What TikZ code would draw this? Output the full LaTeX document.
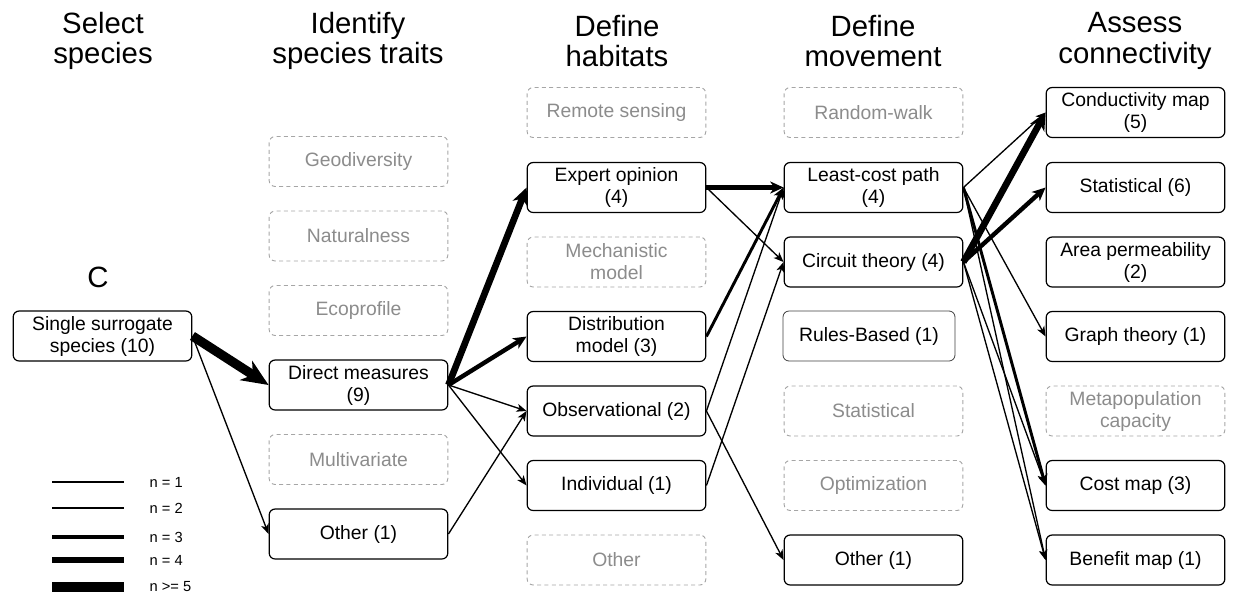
\documentclass[tikz,border=0pt]{standalone}
\usepackage{fontspec}
\setmainfont{Liberation Sans}
\usetikzlibrary{arrows.meta}

\begin{document}
\begin{tikzpicture}[x=0.75pt, y=-0.75pt,
    box/.style={draw, rounded corners=4.5pt, line width=0.9pt, fill=white, minimum width=134pt, minimum height=37.5pt, inner sep=1pt, align=center, font=\fontsize{14.5}{16.5}\selectfont},
    ghost/.style={box, draw=black!35, line width=0.7pt, dash pattern=on 3pt off 2.5pt, text=black!45},
    head/.style={align=center, font=\fontsize{22}{23}\selectfont},
    n1/.style={line width=1pt, -{Stealth[length=7.5pt, width=6pt, inset=2pt]}},
    n2/.style={line width=2.2pt, -{Stealth[length=8.5pt, width=7.5pt, inset=2.5pt]}},
    n3/.style={line width=3.3pt, -{Stealth[length=10pt, width=9pt, inset=3pt]}},
    n4/.style={line width=5pt, -{Stealth[length=13pt, width=12pt, inset=4pt]}},
    n5/.style={line width=7pt, -{Stealth[length=20pt, width=17pt, inset=6pt]}}]
  \useasboundingbox (0,0) rectangle (1233,594);

  % column titles
  \node[head] (h1) at (103,41) {Select\\species};
  \node[head] (h2) at (358,41) {Identify\\species traits};
  \node[head] (h3) at (617,41) {Define\\habitats};
  \node[head] (h4) at (873,41) {Define\\movement};
  \node[head] (h5) at (1135,41) {Assess\\connectivity};
  \node[head] (lab) at (98,277) {C};

  % select species
  \node[box] (single) at (102.5,336) {Single surrogate\\species (10)};

  % species traits
  \node[ghost] (geo) at (358.5,161.5) {Geodiversity};
  \node[ghost] (natur) at (358.5,236) {Naturalness};
  \node[ghost] (eco) at (358.5,310.5) {Ecoprofile};
  \node[box] (direct) at (358.5,385) {Direct measures\\(9)};
  \node[ghost] (multi) at (358.5,459.5) {Multivariate};
  \node[box] (othtrait) at (358.5,534) {Other (1)};

  % habitats
  \node[ghost] (remote) at (616.5,112.5) {Remote sensing};
  \node[box] (expert) at (616.5,187.5) {Expert opinion\\(4)};
  \node[ghost] (mech) at (616.5,262) {Mechanistic\\model};
  \node[box] (distrib) at (616.5,336.5) {Distribution\\model (3)};
  \node[box] (obs) at (616.5,411) {Observational (2)};
  \node[box] (indiv) at (616.5,485.5) {Individual (1)};
  \node[ghost] (othhab) at (616.5,560) {Other};

  % movement
  \node[ghost] (walk) at (873.5,112.5) {Random-walk};
  \node[box] (lcp) at (873.5,187.5) {Least-cost path\\(4)};
  \node[box] (circuit) at (873.5,262) {Circuit theory (4)};
  \node[box, draw=black!75, line width=0.6pt, minimum width=129pt] (rules) at (869,336) {Rules-Based (1)};
  \node[ghost] (statmov) at (873.5,411) {Statistical};
  \node[ghost] (optim) at (873.5,485.5) {Optimization};
  \node[box] (othmov) at (873.5,560) {Other (1)};

  % connectivity
  \node[box] (cond) at (1135.5,112.5) {Conductivity map\\(5)};
  \node[box] (statcon) at (1135.5,187.5) {Statistical (6)};
  \node[box] (area) at (1135.5,262) {Area permeability\\(2)};
  \node[box] (graph) at (1135.5,336.5) {Graph theory (1)};
  \node[ghost] (metapop) at (1135.5,411) {Metapopulation\\capacity};
  \node[box] (cost) at (1135.5,485.5) {Cost map (3)};
  \node[box] (benefit) at (1135.5,560) {Benefit map (1)};

  % links, width = number of studies
  \draw[n5] (single.east) -- (direct.west);
  \draw[n1] (single.east) -- (othtrait.west);

  \draw[n4] (direct.east) -- (expert.west);
  \draw[n3] (direct.east) -- (distrib.west);
  \draw[n1] (direct.east) -- (obs.west);
  \draw[n1] (direct.east) -- (indiv.west);
  \draw[n1] (othtrait.east) -- (obs.west);

  \draw[n3] (expert.east) -- (lcp.west);
  \draw[n1] (expert.east) -- (circuit.west);
  \draw[n2] (distrib.east) -- (lcp.west);
  \draw[n1] (obs.east) -- (lcp.west);
  \draw[n1] (obs.east) -- (othmov.west);
  \draw[n1] (indiv.east) -- (circuit.west);

  \draw[n1] (lcp.east) -- (cond.west);
  \draw[n1] (lcp.east) -- (graph.west);
  \draw[n2] (lcp.east) -- (cost.west);
  \draw[n1] (lcp.east) -- (benefit.west);
  \draw[n4] (circuit.east) -- (cond.west);
  \draw[n3] (circuit.east) -- (statcon.west);
  \draw[n1] (circuit.east) -- (cost.west);
  \draw[n1] (circuit.east) -- (benefit.west);

  % legend
  \foreach \k/\y/\txt in {1/482/{n = 1}, 2/508/{n = 2}, 3/537/{n = 3}, 4/560/{n = 4}, 5/587/{n >= 5}} {
    \coordinate (la\k) at (52,\y);
    \coordinate (lb\k) at (124,\y);
    \draw[n\k, -] (la\k) -- (lb\k);
    \node[anchor=west, font=\fontsize{11}{13}\selectfont] (leg\k) at (145,\y) {\txt};
  }
\end{tikzpicture}
\end{document}
